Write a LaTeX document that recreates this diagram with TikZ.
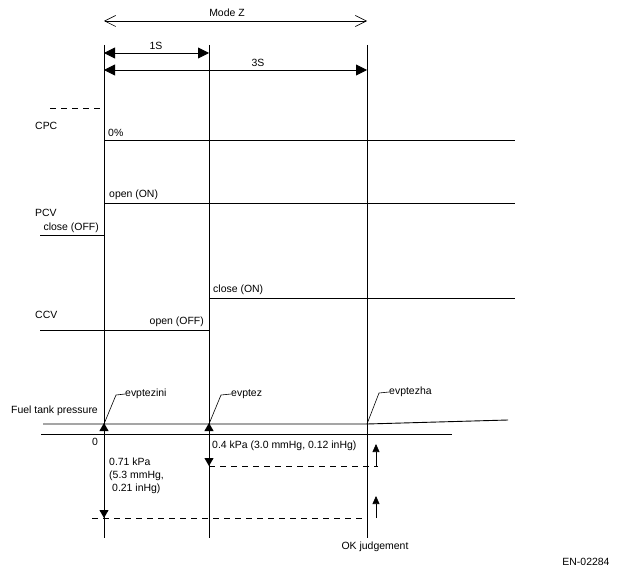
\documentclass[tikz,border=0pt]{standalone}
\usepackage{fontspec}
\setmainfont{Liberation Sans}
\usetikzlibrary{arrows.meta}
\begin{document}
\begin{tikzpicture}[x=1bp,y=-1bp,
  every node/.style={font=\fontsize{10.5}{12}\selectfont, inner sep=0pt},
  ln/.style={line width=0.9bp},
  thin ln/.style={line width=0.6bp},
  dsh/.style={line width=0.8bp, dash pattern=on 6bp off 5bp},
  bothbig/.style={{Triangle[length=11bp,width=11bp]}-{Triangle[length=11bp,width=11bp]}},
  smtip/.style={-{Triangle[length=8bp,width=9bp]}},
  uptip/.style={-{Triangle[length=8bp,width=7bp]}},
  openboth/.style={{Straight Barb[length=11bp,width=11bp]}-{Straight Barb[length=11bp,width=11bp]}}
]
\useasboundingbox (0,0) rectangle (618,575);
% key coordinates
\coordinate (v1t) at (104,45);  \coordinate (v1b) at (104,538);
\coordinate (v2t) at (209,45);  \coordinate (v2b) at (209,538);
\coordinate (v3t) at (367,45);  \coordinate (v3b) at (367,538);
% vertical time lines
\draw[ln] (v1t) -- (v1b);
\draw[ln] (v2t) -- (v2b);
\draw[ln] (v3t) -- (v3b);
% Mode Z
\coordinate (mzL) at (104,21); \coordinate (mzR) at (367,21);
\draw[thin ln, openboth] (mzL) -- (mzR);
\node (modez) at (227,13) {Mode Z};
% 1S / 3S
\coordinate (s1L) at (104,53); \coordinate (s1R) at (209,53);
\draw[ln, bothbig] (s1L) -- (s1R);
\node (s1) at (156,46) {1S};
\coordinate (s3L) at (104,70); \coordinate (s3R) at (367,70);
\draw[ln, bothbig] (s3L) -- (s3R);
\node (s3) at (258,63) {3S};
% CPC
\coordinate (cpcA) at (50,108); \coordinate (cpcB) at (104,108);
\draw[dsh] (cpcA) -- (cpcB);
\node[anchor=west] (cpc) at (35,126) {CPC};
\coordinate (cpc0L) at (104,140); \coordinate (cpc0R) at (515,140);
\draw[ln] (cpc0L) -- (cpc0R);
\node[anchor=west] (zero) at (108,133) {0\%};
% PCV
\coordinate (pcvOnL) at (104,203); \coordinate (pcvOnR) at (515,203);
\draw[ln] (pcvOnL) -- (pcvOnR);
\node[anchor=west] (pcvon) at (109,195) {open (ON)};
\node[anchor=west] (pcv) at (35,213) {PCV};
\node[anchor=east] (pcvoff) at (99,228) {close (OFF)};
\coordinate (pcvOffL) at (40,235); \coordinate (pcvOffR) at (104,235);
\draw[ln] (pcvOffL) -- (pcvOffR);
% CCV
\coordinate (ccvOnL) at (209,298); \coordinate (ccvOnR) at (515,298);
\draw[ln] (ccvOnL) -- (ccvOnR);
\node[anchor=west] (ccvon) at (213,290) {close (ON)};
\node[anchor=west] (ccv) at (35,315) {CCV};
\node[anchor=east] (ccvoff) at (204,322) {open (OFF)};
\coordinate (ccvOffL) at (40,330); \coordinate (ccvOffR) at (209,330);
\draw[ln] (ccvOffL) -- (ccvOffR);
% Fuel tank pressure
\node[anchor=west] (ftp) at (11,411) {Fuel tank pressure};
\coordinate (pA) at (43,424); \coordinate (pB) at (367,424); \coordinate (pC) at (508,420);
\draw[ln] (pA) -- (pB) -- (pC);
\coordinate (zA) at (41,434); \coordinate (zB) at (452,434);
\draw[ln] (zA) -- (zB);
\node (zlab) at (95,442) {0};
% leaders
\coordinate (l1a) at (104,424); \coordinate (l1b) at (116,395);
\node[anchor=west] (evi) at (125,394) {evptezini};
\draw[thin ln] (l1a) -- (l1b) -- (evi.west);
\coordinate (l2a) at (209,424); \coordinate (l2b) at (221,395);
\node[anchor=west] (evz) at (231,394) {evptez};
\draw[thin ln] (l2a) -- (l2b) -- (evz.west);
\coordinate (l3a) at (367,424); \coordinate (l3b) at (379,393);
\node[anchor=west] (evh) at (389,392) {evptezha};
\draw[thin ln] (l3a) -- (l3b) -- (evh.west);
% up arrowheads at pressure line
\coordinate (u1s) at (104,434); \coordinate (u1e) at (104,423);
\draw[ln, smtip] (u1s) -- (u1e);
\coordinate (u2s) at (209,434); \coordinate (u2e) at (209,423);
\draw[ln, smtip] (u2s) -- (u2e);
% down arrows
\coordinate (d1e) at (104,518);
\draw[ln, smtip] (u1s) -- (d1e);
\coordinate (d2e) at (209,466);
\draw[ln, smtip] (u2s) -- (d2e);
% dashed thresholds
\coordinate (t1L) at (92,518); \coordinate (t1R) at (367,518);
\draw[dsh] (t1L) -- (t1R);
\coordinate (t2L) at (209,466); \coordinate (t2R) at (378,466);
\draw[dsh] (t2L) -- (t2R);
% small up arrows at OK judgement
\coordinate (a1s) at (376,466); \coordinate (a1e) at (376,444);
\draw[thin ln, uptip] (a1s) -- (a1e);
\coordinate (a2s) at (376,518); \coordinate (a2e) at (376,496);
\draw[thin ln, uptip] (a2s) -- (a2e);
% labels
\node[anchor=west] (p04) at (212,446) {0.4 kPa (3.0 mmHg, 0.12 inHg)};
\node[anchor=west] (p071a) at (109,462) {0.71 kPa};
\node[anchor=west] (p071b) at (109,476) {(5.3 mmHg,};
\node[anchor=west] (p071c) at (112,489) {0.21 inHg)};
\node (ok) at (375,547) {OK judgement};
\node (en) at (586,562) {EN-02284};
\end{tikzpicture}
\end{document}
